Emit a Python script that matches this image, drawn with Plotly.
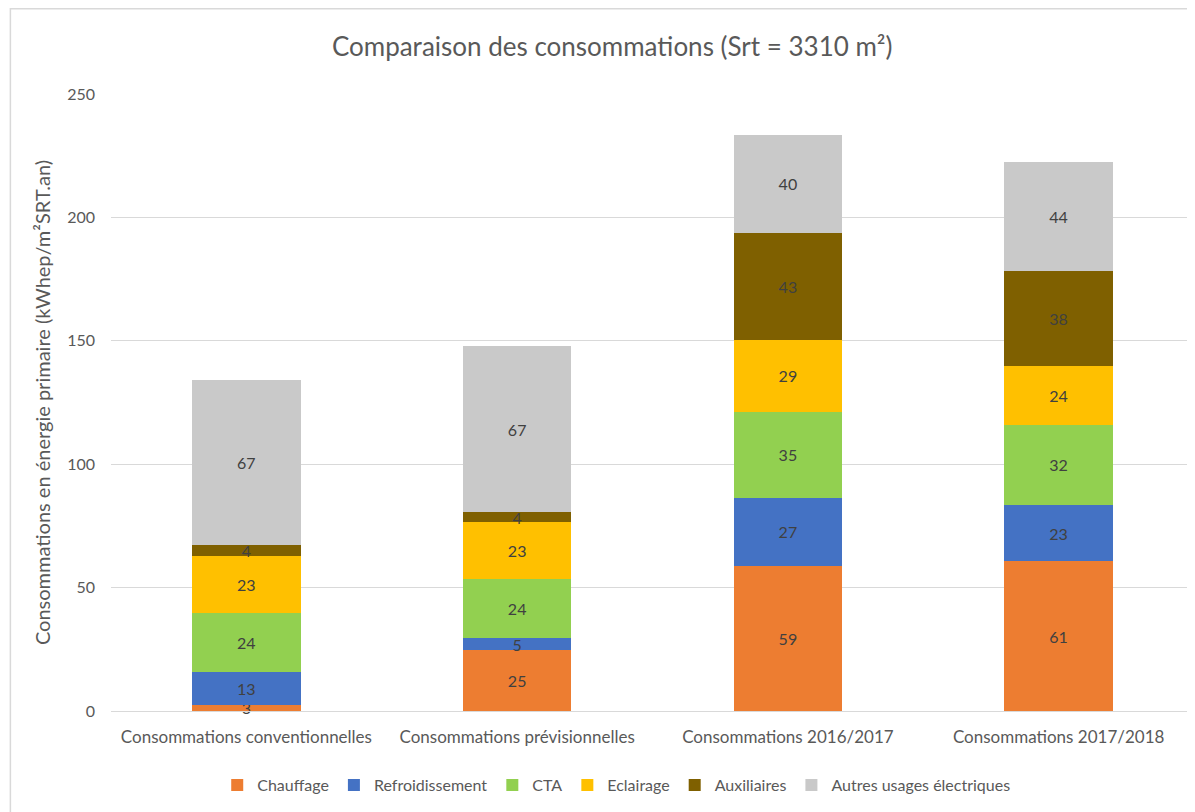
import plotly.graph_objects as go

categories = ["Consommations conventionnelles", "Consommations prévisionnelles",
              "Consommations 2016/2017", "Consommations 2017/2018"]
series_names = ["Chauffage", "Refroidissement", "CTA", "Eclairage", "Auxiliaires",
                "Autres usages électriques"]
chauffage = [2.6, 24.6, 58.9, 60.6]
refroidissement = [13.4, 5.0, 27.4, 22.9]
cta = [23.7, 24.0, 35.0, 32.4]
eclairage = [23.3, 23.0, 29.1, 24.0]
auxiliaires = [4.1, 4.0, 43.4, 38.2]
autres = [67.1, 67.1, 39.6, 44.2]
colors = ["#ED7D31", "#4472C4", "#92D050", "#FFC000", "#7F6000", "#C9C9C9"]

FONT = "Lato"
GREY = "#595959"

fig = go.Figure()
for name, vals, col in zip(series_names,
                           [chauffage, refroidissement, cta, eclairage, auxiliaires, autres],
                           colors):
    fig.add_trace(go.Bar(
        name=name, x=categories, y=vals,
        marker=dict(color=col, line=dict(width=0)),
        text=vals, texttemplate="%{y:.0f}",
        textposition="inside", insidetextanchor="middle", textangle=0,
        textfont=dict(family=FONT, size=16, color="#404040"),
        constraintext="none", cliponaxis=False,
    ))

fig.update_layout(
    barmode="stack", bargap=0.6,
    width=1187, height=804,
    margin=dict(l=103, r=1, t=86, b=101),
    paper_bgcolor="white", plot_bgcolor="white",
    font=dict(family=FONT, size=16, color=GREY),
    uniformtext=dict(mode="show", minsize=16),
    title=dict(text="Comparaison des consommations (Srt = 3310 m²)",
               x=0.509, xanchor="center", y=0.9515, yanchor="middle",
               font=dict(family=FONT, size=26, color=GREY)),
    legend=dict(orientation="h", x=0.4665, xanchor="center", y=-0.12, yanchor="middle",
                font=dict(family=FONT, size=16, color=GREY),
                itemwidth=30, traceorder="normal"),
    showlegend=True,
)
fig.update_yaxes(range=[0, 250], dtick=50, showgrid=True, gridcolor="#D9D9D9", gridwidth=1,
                 zeroline=False, showline=False, ticks="",
                 tickfont=dict(family=FONT, size=16, color=GREY),
                 ticklabelstandoff=15,
                 title=dict(text="Consommations en énergie primaire (kWhep/m²SRT.an)" + "\u00a0" * 9,
                            font=dict(family=FONT, size=20, color=GREY), standoff=11))
fig.update_xaxes(showline=True, linecolor="#D9D9D9", linewidth=1, ticks="",
                 tickfont=dict(family=FONT, size=17, color=GREY),
                 ticklabelstandoff=11)

# chart-area border (cropped at right/bottom)
fig.add_shape(type="rect", xref="paper", yref="paper",
              x0=-0.0929, x1=1.2, y0=-0.3, y1=1.138,
              line=dict(color="#D9D9D9", width=1.5), layer="below")

fig.write_html("out.html")
